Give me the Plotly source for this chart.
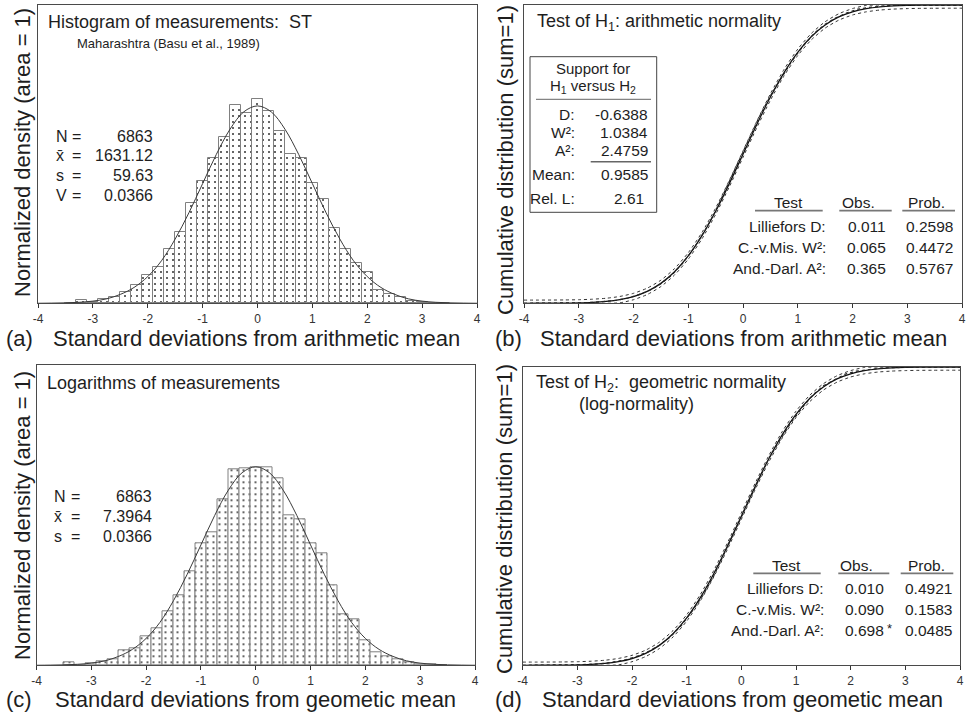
import numpy as np
import plotly.graph_objects as go

W, H = 966, 714

# ---------------- data ----------------
bin_centers = [-3.4, -3.2, -3.0, -2.8, -2.6, -2.4, -2.2, -2.0, -1.8, -1.6, -1.4, -1.2,
               -1.0, -0.8, -0.6, -0.4, -0.2, 0.0, 0.2, 0.4, 0.6, 0.8, 1.0, 1.2,
               1.4, 1.6, 1.8, 2.0, 2.2, 2.4, 2.6, 2.8, 3.0, 3.2, 3.4]
bin_width = 0.2
density_arith = [0.001, 0.006, 0.003, 0.008, 0.012, 0.022, 0.037, 0.057, 0.074, 0.109, 0.145, 0.202,
                 0.248, 0.294, 0.337, 0.401, 0.385, 0.413, 0.388, 0.348, 0.302, 0.294, 0.244, 0.211,
                 0.153, 0.110, 0.082, 0.064, 0.027, 0.018, 0.0135, 0.005, 0.003, 0.001, 0.0005]
density_geom = [0.007, 0.001, 0.004, 0.008, 0.012, 0.030, 0.035, 0.059, 0.074, 0.108, 0.140, 0.188,
                0.245, 0.267, 0.334, 0.393, 0.396, 0.397, 0.398, 0.376, 0.302, 0.294, 0.245, 0.225,
                0.160, 0.103, 0.093, 0.050, 0.026, 0.019, 0.013, 0.007, 0.003, 0.002, 0.0005]

curve_x = [-4.0, -3.75, -3.5, -3.25, -3.0, -2.75, -2.5, -2.25, -2.0, -1.75, -1.5, -1.25, -1.0,
           -0.75, -0.5, -0.25, 0.0, 0.25, 0.5, 0.75, 1.0, 1.25, 1.5, 1.75, 2.0, 2.25, 2.5,
           2.75, 3.0, 3.25, 3.5, 3.75, 4.0]
normal_pdf = [0.0001, 0.0004, 0.0009, 0.002, 0.0044, 0.009, 0.018, 0.032, 0.054, 0.086, 0.130,
              0.183, 0.242, 0.301, 0.352, 0.387, 0.399, 0.387, 0.352, 0.301, 0.242, 0.183, 0.130,
              0.086, 0.054, 0.032, 0.018, 0.009, 0.0044, 0.002, 0.0009, 0.0004, 0.0001]
normal_cdf = [0.00003, 0.00009, 0.00023, 0.00058, 0.00135, 0.00298, 0.00621, 0.01222, 0.02275,
              0.04006, 0.06681, 0.10565, 0.15866, 0.22663, 0.30854, 0.40129, 0.5, 0.59871,
              0.69146, 0.77337, 0.84134, 0.89435, 0.93319, 0.95994, 0.97725, 0.98778, 0.99379,
              0.99702, 0.99865, 0.99942, 0.99977, 0.99991, 0.99997]
band_halfwidth = 0.0107

x_tick_vals = [-4, -3, -2, -1, 0, 1, 2, 3, 4]
x_tick_text = ["-4", "-3", "-2", "-1", "0", "1", "2", "3", "4"]

stats_a_labels = ["N", "x\u0304", "s", "V"]
stats_a_values = ["6863", "1631.12", "59.63", "0.0366"]
stats_c_labels = ["N", "x\u0304", "s"]
stats_c_values = ["6863", "7.3964", "0.0366"]

support_labels = ["D:", "W\u00b2:", "A\u00b2:", "Mean:", "Rel. L:"]
support_values = ["-0.6388", "1.0384", "2.4759", "0.9585", "2.61"]

test_headers = ["Test", "Obs.", "Prob."]
test_names = ["Lilliefors D:", "C.-v.Mis. W\u00b2:", "And.-Darl. A\u00b2:"]
test_obs_b = ["0.011", "0.065", "0.365"]
test_prob_b = ["0.2598", "0.4472", "0.5767"]
test_obs_d = ["0.010", "0.090", "0.698"]
test_prob_d = ["0.4921", "0.1583", "0.0485"]

# ---------------- derived ----------------
cdf = np.array(normal_cdf)
band_hi = np.clip(cdf + band_halfwidth, 0, 1)
band_lo = np.clip(cdf - band_halfwidth, 0, 1)


def empirical(dens):
    d = np.array(dens) * bin_width
    c = np.concatenate([[0.0], np.cumsum(d)]) / d.sum()
    edges = np.concatenate([[bin_centers[0] - bin_width / 2],
                            np.array(bin_centers) + bin_width / 2])
    xs = np.concatenate([[-4.0], edges, [4.0]])
    ys = np.concatenate([[0.0], c, [1.0]])
    return xs, ys


FONT = "Liberation Sans, Arial, Helvetica, sans-serif"
TXT = "#1e1e1e"

fig = go.Figure()

for dens, xa, ya in [(density_arith, "x", "y"), (density_geom, "x3", "y3")]:
    fig.add_trace(go.Bar(
        x=bin_centers, y=dens, width=bin_width, xaxis=xa, yaxis=ya,
        marker=dict(color="white", line=dict(color="#808080", width=1),
                    pattern=dict(shape=".", size=6, solidity=0.09,
                                 fgcolor="#333", bgcolor="white")),
        showlegend=False, hoverinfo="skip"))
    fig.add_trace(go.Scatter(
        x=curve_x, y=normal_pdf, mode="lines", xaxis=xa, yaxis=ya,
        line=dict(color="#3a3a3a", width=1, shape="spline"),
        showlegend=False, hoverinfo="skip"))

for dens, xa, ya in [(density_arith, "x2", "y2"), (density_geom, "x4", "y4")]:
    for yy in (band_hi, band_lo):
        fig.add_trace(go.Scatter(
            x=curve_x, y=yy, mode="lines", xaxis=xa, yaxis=ya,
            line=dict(color="#333", width=1, dash="dot", shape="spline", smoothing=0.6),
            showlegend=False, hoverinfo="skip"))
    fig.add_trace(go.Scatter(
        x=curve_x, y=normal_cdf, mode="lines", xaxis=xa, yaxis=ya,
        line=dict(color="#111", width=1.3, shape="spline"),
        showlegend=False, hoverinfo="skip"))
    ex, ey = empirical(dens)
    fig.add_trace(go.Scatter(
        x=ex, y=ey, mode="lines", xaxis=xa, yaxis=ya,
        line=dict(color="#222", width=1.2, dash="dot"),
        showlegend=False, hoverinfo="skip"))


def xdom(l, r):
    return [l / W, r / W]


def ydom(t, b):
    return [1 - b / H, 1 - t / H]


axis_common = dict(showgrid=False, zeroline=False, showline=True, mirror=True,
                   linecolor="#4a4a4a", linewidth=1)
xcommon = dict(axis_common, range=[-4, 4], tickvals=x_tick_vals, ticktext=x_tick_text,
               ticks="outside", ticklen=4, tickcolor="#333", tickwidth=1,
               tickfont=dict(family=FONT, size=12, color="#333"))
ycommon = dict(axis_common, showticklabels=False, ticks="")

fig.update_layout(
    width=W, height=H, template="none",
    margin=dict(l=0, r=0, t=0, b=0),
    paper_bgcolor="white", plot_bgcolor="white",
    bargap=0,
    xaxis=dict(xcommon, domain=xdom(38, 477), anchor="y"),
    yaxis=dict(ycommon, domain=ydom(5, 303.3), range=[0, 0.603], anchor="x"),
    xaxis2=dict(xcommon, domain=xdom(524, 962), anchor="y2"),
    yaxis2=dict(ycommon, domain=ydom(5, 303.3), range=[0, 1], anchor="x2"),
    xaxis3=dict(xcommon, domain=xdom(36.5, 475), anchor="y3"),
    yaxis3=dict(ycommon, domain=ydom(365.3, 665.3), range=[0, 0.603], anchor="x3"),
    xaxis4=dict(xcommon, domain=xdom(522.7, 960), anchor="y4"),
    yaxis4=dict(ycommon, domain=ydom(367, 665.3), range=[0, 1], anchor="x4"),
)

ann = []


def T(x, y, text, size=16, xa="left", angle=0, color=TXT):
    ann.append(dict(x=x / W, y=1 - y / H, xref="paper", yref="paper", text=text,
                    showarrow=False, xanchor=xa, yanchor="middle", textangle=angle,
                    font=dict(family=FONT, size=size, color=color), borderpad=0))


# axis titles and panel letters
T(22, 153, "Normalized density (area = 1)", 22, "center", -90)
T(505, 160, "Cumulative distribution (sum=1)", 22, "center", -90)
T(22, 516, "Normalized density (area = 1)", 22, "center", -90)
T(504, 519, "Cumulative distribution (sum=1)", 22, "center", -90)

T(5, 338, "(a)", 22)
T(52, 338, "Standard deviations from arithmetic mean", 22)
T(494, 338, "(b)", 22)
T(539, 338, "Standard deviations from arithmetic mean", 22)
T(5, 699, "(c)", 22)
T(54, 699, "Standard deviations from geometic mean", 22)
T(494, 699, "(d)", 22)
T(541, 699, "Standard deviations from geometic mean", 22)

# panel (a) texts
T(47, 22, "Histogram of measurements:\u00a0 ST", 18)
T(76, 43, "Maharashtra (Basu et al., 1989)", 13)
for i, (lab, val) in enumerate(zip(stats_a_labels, stats_a_values)):
    y = 136 + 19.7 * i
    T(55, y, lab, 16)
    T(76, y, "=", 16, "center")
    T(154, y, val, 16, "right")

# panel (c) texts
T(46, 383, "Logarithms of measurements", 18)
for i, (lab, val) in enumerate(zip(stats_c_labels, stats_c_values)):
    y = 496.3 + 20 * i
    T(53, y, lab, 16)
    T(75, y, "=", 16, "center")
    T(152.7, y, val, 16, "right")

# panel (b) texts
T(536, 22, "Test of H<sub>1</sub>: arithmetic normality", 18)
T(593, 68.5, "Support for", 15, "center")
T(593, 86.5, "H<sub>1</sub> versus H<sub>2</sub>", 15, "center")
sup_rows = [115, 132.7, 150.7, 174, 198.3]
for lab, val, y in zip(support_labels, support_values, sup_rows):
    T(575.7, y, lab, 15.5, "right")
    T(649.3 if val != "2.61" else 645, y, val, 15.5, "right")

# panel (d) texts
T(535, 383, "Test of H<sub>2</sub>:\u00a0 geometric normality", 18)
T(578, 404, "(log-normality)", 18)

shapes = []


def L(x0, y0, x1, y1, color="#555", width=1):
    shapes.append(dict(type="line", xref="paper", yref="paper",
                       x0=x0 / W, y0=1 - y0 / H, x1=x1 / W, y1=1 - y1 / H,
                       line=dict(color=color, width=width)))


# support box
shapes.append(dict(type="rect", xref="paper", yref="paper",
                   x0=530 / W, y0=1 - 212.3 / H, x1=656.7 / W, y1=1 - 56.7 / H,
                   line=dict(color="#444", width=1), fillcolor="rgba(0,0,0,0)"))
L(536, 99.3, 651, 99.3, "#666", 1)
L(590.7, 161.7, 651, 161.7, "#666", 1.5)


def test_table(hy, centers, ulines, rows, lab_r, obs_r, prob_r, obs, prob, star=False):
    for h, cx in zip(test_headers, centers):
        T(cx, hy, h, 15.5, "center")
    for (a, b) in ulines:
        L(a, hy + 8, b, hy + 8, "#777", 1.8)
    for i, (nm, o, p) in enumerate(zip(test_names, obs, prob)):
        y = rows[i]
        T(lab_r, y, nm, 15.5, "right")
        T(obs_r, y, o, 15.5, "right")
        T(prob_r, y, p, 15.5, "right")
        if star and i == len(test_names) - 1:
            T(obs_r + 0.5, y - 2, "*", 13, "left")


test_table(202.7, [788.3, 858.3, 926.7], [(755, 822.7), (839.3, 891.7), (902.3, 955)],
           [226.7, 247.3, 268.3], 826.7, 887.3, 954, test_obs_b, test_prob_b)
test_table(565.3, [786.7, 856.7, 926.7], [(753.3, 820.7), (838.3, 889.3), (900.7, 953.3)],
           [588, 609.3, 630.3], 825, 885, 952.7, test_obs_d, test_prob_d, star=True)

fig.update_layout(annotations=ann, shapes=shapes)
fig.write_html("out.html")
